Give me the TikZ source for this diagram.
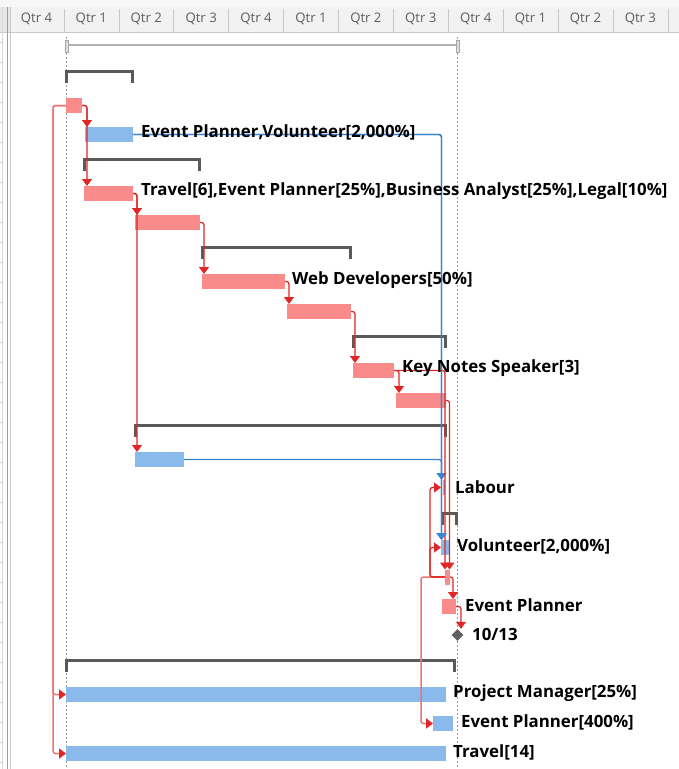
\documentclass[tikz,border=0pt]{standalone}
\usepackage{fontspec}
\setmainfont{Open Sans}
\usetikzlibrary{arrows.meta,shapes.geometric}
\definecolor{taskred}{HTML}{F98B8B}
\definecolor{taskblue}{HTML}{8AB9EB}
\definecolor{linkred}{HTML}{E02626}
\definecolor{linkpink}{HTML}{E87676}
\definecolor{linkblue}{HTML}{3A85D5}
\definecolor{sumgray}{HTML}{5A5A5A}
\definecolor{hdrbg}{HTML}{F2F2F2}
\definecolor{hdrtop}{HTML}{F7F7F7}
\definecolor{hdrtext}{HTML}{5E5E5E}
\definecolor{gridgray}{HTML}{C8C8C8}
\definecolor{dotgray}{HTML}{9C9C9C}
\tikzset{
  bar/.style={minimum height=15pt, inner sep=0pt, outer sep=0pt, anchor=west, draw=none},
  redbar/.style={bar, fill=taskred},
  bluebar/.style={bar, fill=taskblue},
  tasklabel/.style={anchor=west, inner sep=0pt, font=\fontsize{16.85}{18}\selectfont\bfseries, text=black},
  qtr/.style={inner sep=0pt, font=\fontsize{13.2}{14}\selectfont, text=hdrtext},
  linkbase/.style={line width=1.25pt, rounded corners=2.5pt},
  redlink/.style={linkbase, draw=linkred, -{Triangle[width=10pt,length=7pt,color=linkred]}},
  pinklink/.style={linkbase, line width=1.5pt, draw=linkpink, -{Triangle[width=10pt,length=7pt,color=linkred]}},
  bluelink/.style={linkbase, line width=1.4pt, draw=linkblue, -{Triangle[width=10pt,length=7pt,color=linkblue]}},
  summary/.style={draw=sumgray, line width=3pt, line cap=butt, line join=miter},
  dotline/.style={draw=dotgray, line width=1.5pt, dash pattern=on 1.5pt off 2.5pt},
}
\begin{document}
\begin{tikzpicture}[x=1pt,y=-1pt]
\useasboundingbox (0,0) rectangle (679,769);
\fill[white] (0,0) rectangle (679,769);

% timescale header
\fill[hdrtop] (0,0) rectangle (679,7);
\fill[hdrbg] (10,7) rectangle (679,32);
\fill[hdrbg!90!gray] (0,7) rectangle (10,32);
\draw[gridgray, line width=1pt] (0,32.5) -- (679,32.5);
\foreach \k/\q in {0/4,1/1,2/2,3/3,4/4,5/1,6/2,7/3,8/4,9/1,10/2,11/3}{
  \node[qtr] (hq\k) at ({36.5+54.9*\k},19) {Qtr \q};
  \draw[gridgray, line width=0.8pt] ({64+54.9*\k},9) -- ({64+54.9*\k},32);
}

% left pane edge
\draw[gridgray!70, line width=0.8pt] (2.5,7) -- (2.5,769);
\draw[dotgray, line width=1pt] (7.5,7) -- (7.5,769);
\draw[gridgray, line width=1pt] (10,7) -- (10,769);
\foreach \i in {0,...,36}{
  \draw[gridgray!80, line width=0.7pt] (0,{42+20*\i}) -- (2.5,{42+20*\i});
}

% project start and finish
\draw[dotline] (66.5,37) -- (66.5,769);
\draw[dotline] (457.5,37) -- (457.5,769);

% project summary
\draw[gray!60, line width=2.5pt] (66.5,45) -- (457.5,45);
\draw[gray!70, fill=gray!25, line width=0.6pt] (65,40) rectangle (68,52);
\draw[gray!70, fill=gray!25, line width=0.6pt] (456,40) rectangle (459,52);

% summary brackets
\draw[summary] (66.5,83) -- (66.5,71.5) -- (132.5,71.5) -- (132.5,83);
\draw[summary] (84.5,171) -- (84.5,159.5) -- (199.5,159.5) -- (199.5,171);
\draw[summary] (202.5,259) -- (202.5,247.5) -- (350.5,247.5) -- (350.5,259);
\draw[summary] (353.5,348) -- (353.5,336.5) -- (445.5,336.5) -- (445.5,348);
\draw[summary] (135.5,437) -- (135.5,425.5) -- (445.5,425.5) -- (445.5,437);
\draw[summary] (442.5,525) -- (442.5,513.5) -- (456.5,513.5) -- (456.5,525);
\draw[summary] (66.5,672) -- (66.5,660.5) -- (454.5,660.5) -- (454.5,672);

% task bars
\node[redbar,  minimum width=16pt]  (t3)  at (66,105.5) {};
\node[bluebar, minimum width=48pt]  (t4)  at (85,134.5) {};
\node[redbar,  minimum width=49pt]  (t6)  at (84,193.5) {};
\node[redbar,  minimum width=65pt]  (t7)  at (135,222.5) {};
\node[redbar,  minimum width=83pt]  (t9)  at (202,281.5) {};
\node[redbar,  minimum width=64pt]  (t10) at (287,311.5) {};
\node[redbar,  minimum width=41pt]  (t12) at (353,370.5) {};
\node[redbar,  minimum width=50pt]  (t13) at (396,400.5) {};
\node[bluebar, minimum width=49pt]  (t15) at (135,459.5) {};
\node[bluebar, minimum width=2.5pt] (t16) at (442.5,487.5) {};
\node[bluebar, minimum width=8pt]   (t18) at (441,547.5) {};
\node[redbar,  minimum width=5pt]   (t19) at (445,577) {};
\node[redbar,  minimum width=14pt]  (t20) at (442,606.5) {};
\node[diamond, fill=gray!75!black, inner sep=0pt, minimum width=12pt, minimum height=12pt] (m21) at (457.5,635) {};
\node[bluebar, minimum width=380pt] (t23) at (66,694.5) {};
\node[bluebar, minimum width=20pt]  (t24) at (433,723.5) {};
\node[bluebar, minimum width=380pt] (t25) at (66,753.5) {};

% links
\draw[pinklink] (t3.west) -| ([xshift=-13pt]t3.west |- t23.west) -- (t23.west);
\draw[pinklink] (t3.west) -| ([xshift=-13pt]t3.west |- t25.west) -- (t25.west);
\draw[redlink] (t3.east) -| ([xshift=5pt]t3.east |- t4.north);
\draw[redlink] (t3.east) -| ([xshift=5pt]t3.east |- t6.north);
\draw[bluelink] (t4.east) -| ([xshift=0.5pt]t18.north west |- t16.north);
\draw[bluelink] (t4.east) -| ([xshift=0.5pt]t18.north west);
\draw[redlink] (t6.east) -| ([xshift=4pt]t6.east |- t7.north);
\draw[redlink] (t6.east) -| ([xshift=4pt]t6.east |- t15.north);
\draw[redlink] (t7.east) -| ([xshift=4pt]t7.east |- t9.north);
\draw[redlink] (t9.east) -| ([xshift=4pt]t9.east |- t10.north);
\draw[redlink] (t10.east) -| ([xshift=4pt]t10.east |- t12.north);
\draw[redlink] (t12.east) -| ([xshift=5pt]t12.east |- t13.north);
\draw[redlink] (t12.east) -| (t19.north west);
\draw[redlink] (t13.east) -| ([xshift=3.5pt]t13.east |- t19.north);
\draw[bluelink] (t15.east) -| ([xshift=0.5pt]t18.north west);
\draw[pinklink] (t19.west) -| ([xshift=-24pt]t19.west |- t24.west) -- (t24.west);
\draw[redlink] (t19.west) -| ([xshift=-15pt]t19.west |- t16.west) -- ([xshift=-1.5pt]t16.west);
\draw[redlink] (t19.west) -| ([xshift=-15pt]t19.west |- t18.west) -- (t18.west);
\draw[redlink] (t19.east) -| ([xshift=3pt]t19.east |- t20.north);
\draw[redlink] (t20.east) -| ([xshift=5pt]t20.east |- m21.north);

% resource labels
\node[tasklabel] (l4)  at (141,132.5) {Event Planner,Volunteer[2,000\%]};
\node[tasklabel] (l6)  at (141,191.5) {Travel[6],Event Planner[25\%],Business Analyst[25\%],Legal[10\%]};
\node[tasklabel] (l9)  at (292,280)   {Web Developers[50\%]};
\node[tasklabel] (l12) at (402,368.5) {Key Notes Speaker[3]};
\node[tasklabel] (l16) at (455,487)   {Labour};
\node[tasklabel] (l18) at (457,546)   {Volunteer[2,000\%]};
\node[tasklabel] (l20) at (465,605)   {Event Planner};
\node[tasklabel] (l21) at (472,634)   {10/13};
\node[tasklabel] (l23) at (453,693)   {Project Manager[25\%]};
\node[tasklabel] (l24) at (461,722)   {Event Planner[400\%]};
\node[tasklabel] (l25) at (453,752)   {Travel[14]};
\end{tikzpicture}
\end{document}
